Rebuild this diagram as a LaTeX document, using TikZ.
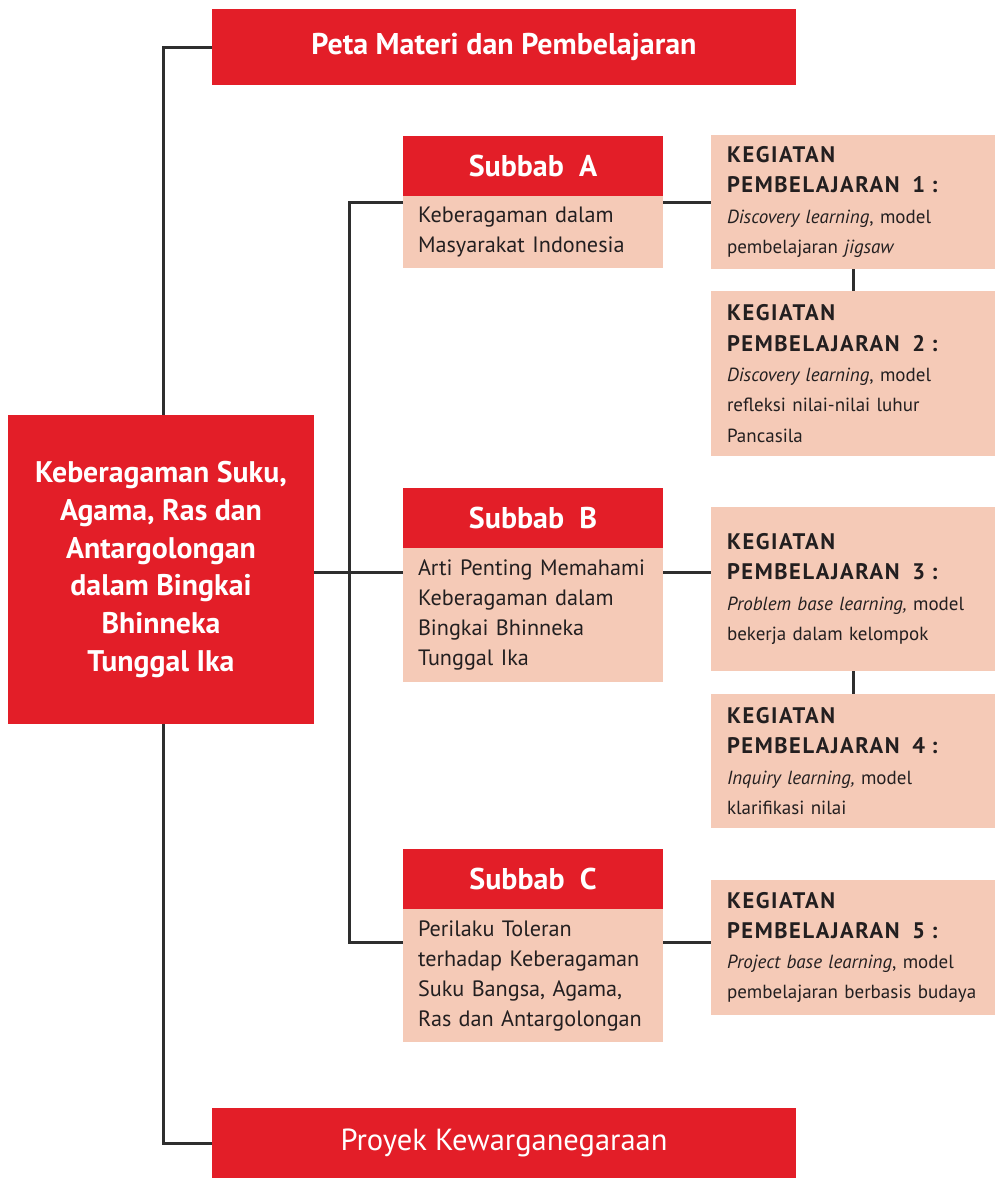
\documentclass[tikz,border=0pt]{standalone}
\usepackage{fontspec}
\setmainfont{PT Sans}
\definecolor{bred}{HTML}{E31E28}
\definecolor{peach}{HTML}{F5CAB7}
\definecolor{ink}{HTML}{231F20}
\definecolor{wire}{HTML}{2E2E2E}
\newcommand\kph[1]{{\bfseries\fontsize{22.5}{30}\selectfont\addfontfeature{LetterSpace=7}#1}}
\begin{document}
\begin{tikzpicture}[x=1pt,y=-1pt,
  redbox/.style={fill=bred, text=white, inner sep=0pt, font=\bfseries\fontsize{30}{30}\selectfont},
  bodybox/.style={fill=peach, text=ink, inner xsep=15pt, inner ysep=0pt, text width=230pt, minimum width=260pt, align=left, font=\fontsize{22.2}{30}\selectfont},
  kpbox/.style={fill=peach, text=ink, inner xsep=16pt, inner ysep=0pt, text width=252pt, minimum width=284pt, align=left, font=\fontsize{19}{30.3}\selectfont},
  wirestyle/.style={draw=wire, line width=3pt}]
\useasboundingbox (0,0) rectangle (995,1178);
\fill[white] (0,0) rectangle (995,1178);

\coordinate (spine) at (163,0);
\coordinate (busA) at (349,202);
\coordinate (busB) at (349,572);
\coordinate (busC) at (349,942);

\node[redbox, minimum width=584pt, minimum height=76pt] (peta) at (504,47) {Peta Materi dan Pembelajaran};
\node[redbox, minimum width=584pt, minimum height=70pt, font=\fontsize{30.5}{30}\selectfont] (proyek) at (504,1143) {Proyek Kewarganegaraan};
\node[redbox, minimum width=306pt, minimum height=309pt, align=center, font=\bfseries\fontsize{29.8}{37.8}\selectfont] (central) at (161,569.5)
  {Keberagaman Suku,\\Agama, Ras dan\\Antargolongan\\dalam Bingkai\\Bhinneka\\Tunggal Ika};

\node[redbox, minimum width=260pt, minimum height=60pt] (hdrA) at (533,166) {Subbab\ \ A};
\node[bodybox, minimum height=72pt] (bodyA) at (533,232) {Keberagaman dalam\\Masyarakat Indonesia};
\node[redbox, minimum width=260pt, minimum height=60pt] (hdrB) at (533,518) {Subbab\ \ B};
\node[bodybox, minimum height=134pt] (bodyB) at (533,615) {\mbox{Arti Penting Memahami}\\Keberagaman dalam\\Bingkai Bhinneka\\Tunggal Ika};
\node[redbox, minimum width=260pt, minimum height=60pt] (hdrC) at (533,879) {Subbab\ \ C};
\node[bodybox, minimum height=133pt] (bodyC) at (533,975.5) {Perilaku Toleran\\terhadap Keberagaman\\Suku Bangsa, Agama,\\\mbox{Ras dan Antargolongan}};

\node[kpbox, minimum height=134pt] (kp1) at (853,202)
  {\kph{KEGIATAN}\\\kph{PEMBELAJARAN\ \ 1 :}\\\textit{Discovery learning}, model\\pembelajaran \textit{jigsaw}};
\node[kpbox, minimum height=165pt] (kp2) at (853,373.5)
  {\kph{KEGIATAN}\\\kph{PEMBELAJARAN\ \ 2 :}\\\textit{Discovery learning}, model\\refleksi nilai-nilai luhur\\Pancasila};
\node[kpbox, minimum height=164pt] (kp3) at (853,589)
  {\kph{KEGIATAN}\\\kph{PEMBELAJARAN\ \ 3 :}\\\textit{Problem base learning,} model\\bekerja dalam kelompok};
\node[kpbox, minimum height=134pt] (kp4) at (853,761)
  {\kph{KEGIATAN}\\\kph{PEMBELAJARAN\ \ 4 :}\\\textit{Inquiry learning,} model\\klarifikasi nilai};
\node[kpbox, minimum height=135pt] (kp5) at (853,947.5)
  {\kph{KEGIATAN}\\\kph{PEMBELAJARAN\ \ 5 :}\\\textit{Project base learning}, model\\\mbox{pembelajaran berbasis budaya}};

\draw[wirestyle] (peta.west) -| (spine |- central.north);
\draw[wirestyle] (proyek.west) -| (spine |- central.south);
\draw[wirestyle] (central.east |- busB) -- (bodyB.west |- busB);
\draw[wirestyle] (bodyA.west |- busA) -- (busA) -- (busC) -- (bodyC.west |- busC);
\draw[wirestyle] (bodyA.east |- kp1.west) -- (kp1.west);
\draw[wirestyle] (bodyB.east |- busB) -- (kp3.west |- busB);
\draw[wirestyle] (bodyC.east |- busC) -- (kp5.west |- busC);
\draw[wirestyle] (kp1.south) -- (kp2.north);
\draw[wirestyle] (kp3.south) -- (kp4.north);
\end{tikzpicture}
\end{document}
